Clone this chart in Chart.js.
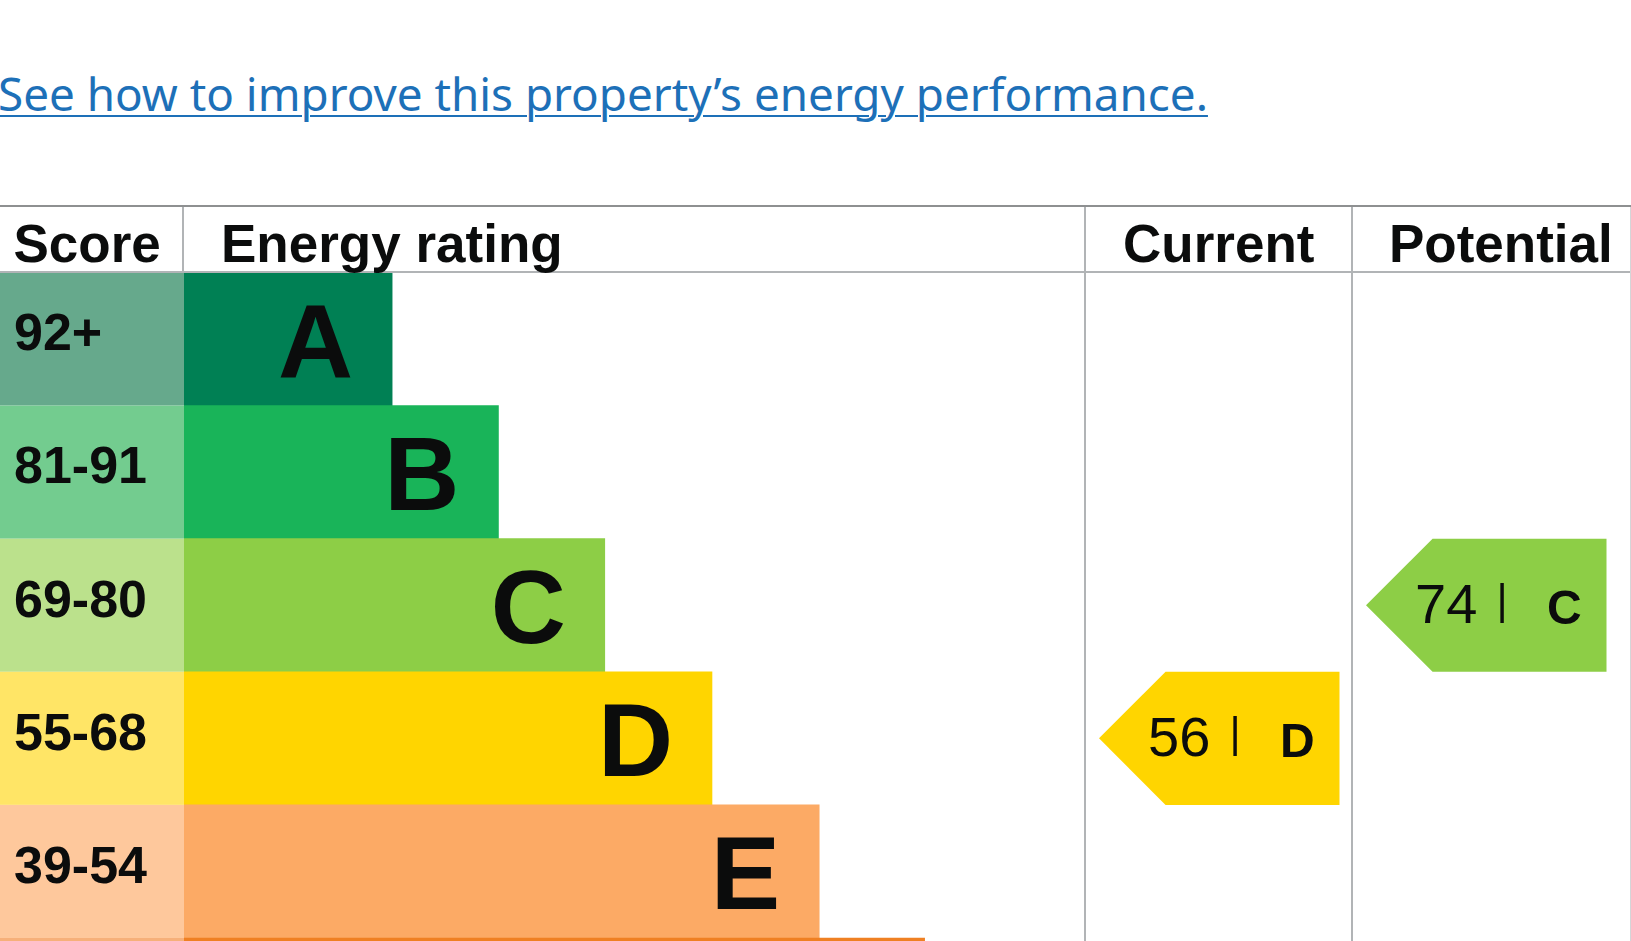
<!DOCTYPE html>
<html><head><meta charset="utf-8">
<script src="https://cdn.jsdelivr.net/npm/chart.js@4.4.1/dist/chart.umd.min.js"></script>
<style>
html,body{margin:0;padding:0;background:#fff;overflow:hidden;width:1631px;height:941px;}
#link{position:absolute;left:-2px;top:70px;font-family:"Noto Sans",sans-serif;font-size:45.8px;line-height:46px;color:#1d70b8;text-decoration:underline;text-decoration-thickness:2px;text-underline-offset:4px;white-space:nowrap;}
#c{position:absolute;left:0;top:0;display:block;}
</style></head><body>
<a id="link" href="#">See how to improve this property’s energy performance.</a>
<canvas id="c" width="1631" height="1250"></canvas>
<script>
// ---- data ----
const bands = ['A','B','C','D','E','F','G'];
const scoreRanges = ['92+','81-91','69-80','55-68','39-54','21-38','1-20'];
const bandMinScores = [92,81,69,55,39,21,1];
const barLengths = [23.1, 34.9, 46.7, 58.6, 70.5, 82.2, 94.0];
const headers = ['Score','Energy rating','Current','Potential'];
const currentScore = 56;
const potentialScore = 74;

// ---- style ----
const bandColors = ['#008054','#19b459','#8dce46','#ffd500','#fcaa65','#ef8023','#e9153b'];
const bandTints  = ['#66a98c','#73cc8f','#bbe18c','#ffe566','#fec89c','#f6b07a','#f0738a'];
const FONT = "'Liberation Sans', Arial, Helvetica, sans-serif";
const INK = '#0b0c0c';
const LINE = '#b1b4b6';
const L = { headerH: 66.5, currentW: 267, pad: 37, scoreTextX: 13.5, letterGap: 39,
            tipOff: 14, arrowW: 240.5 };

function bandIndex(s){ for(let i=0;i<bandMinScores.length;i++){ if(s>=bandMinScores[i]) return i; } return bandMinScores.length-1; }

function drawArrow(ctx, y, colLeft, score){
  const idx = bandIndex(score);
  const yc = y.getPixelForValue(idx);
  const rowH = y.getPixelForValue(1)-y.getPixelForValue(0);
  const h = rowH/2;
  const tip = colLeft + L.tipOff, right = tip + L.arrowW;
  ctx.save();
  ctx.fillStyle = bandColors[idx];
  ctx.beginPath();
  ctx.moveTo(tip, yc);
  ctx.lineTo(tip+h, yc-h);
  ctx.lineTo(right, yc-h);
  ctx.lineTo(right, yc+h);
  ctx.lineTo(tip+h, yc+h);
  ctx.closePath();
  ctx.fill();
  ctx.fillStyle = INK;
  ctx.textBaseline = 'alphabetic';
  ctx.textAlign = 'left';
  ctx.font = `56px ${FONT}`;
  ctx.fillText(String(score), tip+49, yc+18);
  ctx.textAlign = 'center';
  ctx.font = `43px ${FONT}`;
  ctx.fillText('|', tip+136, yc+18-9);
  ctx.textAlign = 'left';
  ctx.font = `bold 48px ${FONT}`;
  ctx.fillText(bands[idx], tip+181, yc+19);
  ctx.restore();
}

const epcPlugin = {
  id:'epc',
  beforeDraw(chart){
    const {ctx, chartArea:ca, scales:{y}} = chart;
    const rowH = y.getPixelForValue(1)-y.getPixelForValue(0);
    ctx.save();
    bands.forEach((b,i)=>{
      const yc = y.getPixelForValue(i);
      ctx.fillStyle = bandTints[i];
      ctx.fillRect(0, yc-rowH/2, ca.left, rowH);
    });
    ctx.restore();
  },
  afterDatasetsDraw(chart){
    const {ctx, chartArea:ca, scales:{y}} = chart;
    const meta = chart.getDatasetMeta(0);
    ctx.save();
    ctx.fillStyle = INK;
    ctx.font = `bold 104px ${FONT}`;
    ctx.textAlign = 'right';
    ctx.textBaseline = 'alphabetic';
    meta.data.forEach((bar,i)=>{
      ctx.fillText(bands[i], bar.x - L.letterGap, bar.y + 38);
    });
    ctx.restore();
    drawArrow(ctx, y, ca.right, currentScore);
    drawArrow(ctx, y, ca.right + L.currentW, potentialScore);
  },
  afterDraw(chart){
    const {ctx, chartArea:ca, width} = chart;
    const top = ca.top - L.headerH;
    ctx.save();
    ctx.lineWidth = 2;
    ctx.strokeStyle = LINE;
    ctx.beginPath(); ctx.moveTo(0, ca.top-0.5); ctx.lineTo(width, ca.top-0.5); ctx.stroke();
    ctx.beginPath(); ctx.moveTo(ca.left-1, top); ctx.lineTo(ca.left-1, ca.top); ctx.stroke();
    ctx.beginPath(); ctx.moveTo(ca.right, top); ctx.lineTo(ca.right, chart.height); ctx.stroke();
    ctx.beginPath(); ctx.moveTo(ca.right+L.currentW, top); ctx.lineTo(ca.right+L.currentW, chart.height); ctx.stroke();
    ctx.lineWidth = 1; ctx.strokeStyle = '#d4d6d8';
    ctx.beginPath(); ctx.moveTo(width-0.5, top); ctx.lineTo(width-0.5, chart.height); ctx.stroke();
    ctx.lineWidth = 2; ctx.strokeStyle = '#8e9091';
    ctx.beginPath(); ctx.moveTo(0, top); ctx.lineTo(width, top); ctx.stroke();
    ctx.fillStyle = INK;
    ctx.font = `bold 53px ${FONT}`;
    ctx.textAlign = 'left';
    ctx.textBaseline = 'alphabetic';
    const hy = ca.top - 11;
    const xs = [L.scoreTextX, ca.left + L.pad, ca.right + L.pad + 1, ca.right + L.currentW + L.pad];
    headers.forEach((t,i)=>ctx.fillText(t, xs[i], hy));
    ctx.restore();
  }
};

new Chart(document.getElementById('c'), {
  type:'bar',
  data:{ labels: bands, datasets:[{ data: barLengths, backgroundColor: bandColors, borderWidth:0,
         barPercentage:1, categoryPercentage:1 }]},
  options:{
    indexAxis:'y', responsive:false, animation:false, events:[],
    layout:{padding:{left:14, top:272.5, right:546, bottom:1250-272.5-931.7}},
    plugins:{legend:{display:false}, tooltip:{enabled:false}, title:{display:false}},
    scales:{
      x:{display:false, min:0, max:100},
      y:{ grid:{display:false}, border:{display:false},
          ticks:{ crossAlign:'far', labelOffset:-3, padding:0, color:INK, autoSkip:false,
                  font:{family:FONT, size:52, weight:'bold'},
                  callback:(v,i)=>scoreRanges[i] },
          afterFit(s){ s.width = 170; } }
    }
  },
  plugins:[epcPlugin]
});
</script>
</body></html>
